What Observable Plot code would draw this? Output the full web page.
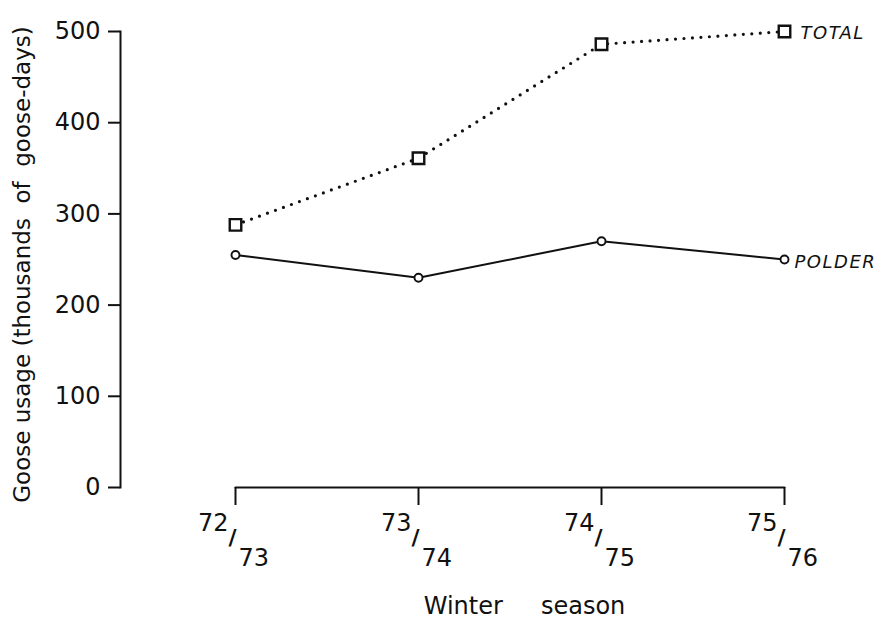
<!DOCTYPE html>
<html>
<head>
<meta charset="utf-8">
<script src="https://cdn.jsdelivr.net/npm/d3@7"></script>
<script src="https://cdn.jsdelivr.net/npm/@observablehq/plot@0.6"></script>
<style>
  html, body { margin: 0; padding: 0; background: #fff; }
  .lbl text { letter-spacing: 1.5px; }
</style>
</head>
<body>
<div id="chart"></div>
<script>
const seasons = ["72/73", "73/74", "74/75", "75/76"];
const total = [288, 361, 486, 500];
const polder = [255, 230, 270, 250];
const seriesNames = ["TOTAL", "POLDER"];
const yTicks = [0, 100, 200, 300, 400, 500];

const totalData = seasons.map((s, i) => ({season: s, value: total[i]}));
const polderData = seasons.map((s, i) => ({season: s, value: polder[i]}));
const ink = "#111";

const chart = Plot.plot({
  width: 884,
  height: 621,
  marginLeft: 120,
  marginRight: 100,
  marginTop: 31,
  marginBottom: 134,
  style: {fontFamily: "DejaVu Sans", background: "#fff", color: ink},
  x: {type: "point", domain: seasons, range: [235, 784], padding: 0},
  y: {domain: [0, 500]},
  marks: [
    Plot.frame({anchor: "left", stroke: ink, strokeWidth: 2}),
    Plot.axisY({ticks: yTicks, tickSize: 12, tickPadding: 8, fontSize: 24, strokeWidth: 2, label: null, tickFormat: d => String(d)}),
    Plot.axisX({tickSize: 18, tickFormat: () => "", strokeWidth: 2, label: null}),
    Plot.line(seasons, {x: d => d, y: () => 0, stroke: ink, strokeWidth: 2}),
    // fraction-style season labels
    Plot.text(seasons, {x: d => d, y: () => 0, text: d => d.split("/")[0], textAnchor: "end", lineAnchor: "bottom", dx: -7, dy: 43, fontSize: 24, fill: ink}),
    Plot.text(seasons, {x: d => d, y: () => 0, text: () => "/", textAnchor: "middle", lineAnchor: "bottom", dx: -3, dy: 57, fontSize: 22, fontWeight: "bold", fill: ink}),
    Plot.text(seasons, {x: d => d, y: () => 0, text: d => d.split("/")[1], textAnchor: "start", lineAnchor: "bottom", dx: 3, dy: 78, fontSize: 24, fill: ink}),
    // axis titles
    Plot.text(["Winter\u00a0\u00a0\u00a0\u00a0\u00a0season"], {frameAnchor: "bottom", text: d => d, textAnchor: "middle", dx: 72, dy: 126, lineAnchor: "bottom", fontSize: 24, fill: ink}),
    Plot.text(["Goose usage (thousands\u00a0\u00a0of\u00a0\u00a0goose-days)"], {frameAnchor: "left", text: d => d, textAnchor: "middle", rotate: -90, dx: -98, dy: 5, lineAnchor: "middle", fontSize: 23, fill: ink}),
    // series
    Plot.line(totalData, {x: "season", y: "value", stroke: ink, strokeWidth: 3.2, strokeDasharray: "0,8.5", strokeLinecap: "round"}),
    Plot.line(polderData, {x: "season", y: "value", stroke: ink, strokeWidth: 2}),
    Plot.dot(totalData, {x: "season", y: "value", symbol: "square", r: 6.5, stroke: ink, strokeWidth: 2.4, fill: "#fff"}),
    Plot.dot(polderData, {x: "season", y: "value", symbol: "circle", r: 4, stroke: ink, strokeWidth: 1.9, fill: "#fff"}),
    // series labels at last point
    Plot.text([{season: seasons[3], value: total[3], name: seriesNames[0]}], {x: "season", y: "value", text: "name", textAnchor: "start", dx: 16, dy: 2, fontSize: 18, fontStyle: "italic", fill: ink, className: "lbl"}),
    Plot.text([{season: seasons[3], value: polder[3], name: seriesNames[1]}], {x: "season", y: "value", text: "name", textAnchor: "start", dx: 10, dy: 3, fontSize: 18, fontStyle: "italic", fill: ink, className: "lbl"})
  ]
});
document.getElementById("chart").appendChild(chart);
</script>
</body>
</html>
